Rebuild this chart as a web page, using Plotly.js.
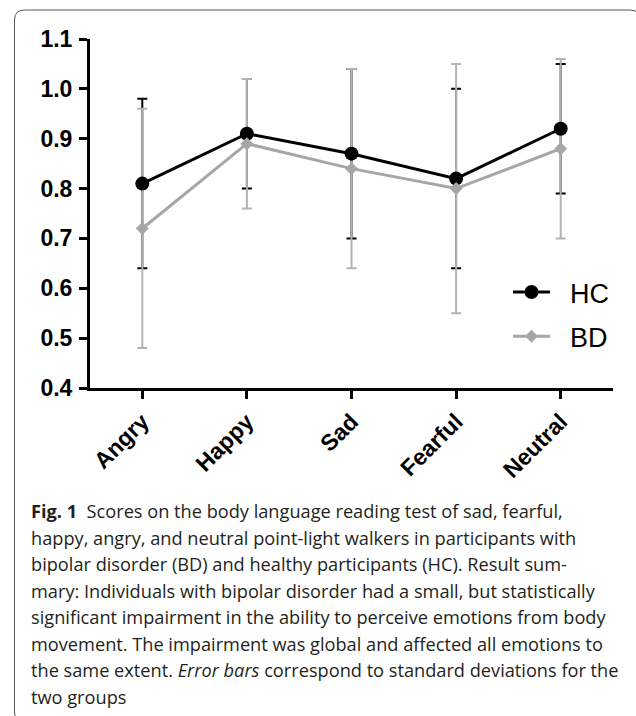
<!DOCTYPE html>
<html>
<head>
<meta charset="utf-8">
<script src="https://cdn.plot.ly/plotly-3.0.1.min.js"></script>
<style>
html,body{margin:0;padding:0;background:#fff;}
#chart{width:636px;height:716px;}
</style>
</head>
<body>
<div id="chart"></div>
<script>
// ---- data ----
const categories = ["Angry", "Happy", "Sad", "Fearful", "Neutral"];
const hcMean = [0.81, 0.91, 0.87, 0.82, 0.92];
const hcSD   = [0.17, 0.11, 0.17, 0.18, 0.13];
const bdMean = [0.72, 0.89, 0.84, 0.80, 0.88];
const bdSD   = [0.24, 0.13, 0.20, 0.25, 0.18];
const yTicks = [0.4, 0.5, 0.6, 0.7, 0.8, 0.9, 1.0, 1.1];
const yTickLabels = ["0.4", "0.5", "0.6", "0.7", "0.8", "0.9", "1.0", "1.1"];
const seriesNames = ["HC", "BD"];
const captionLines = [
  "<b>Fig. 1</b>  Scores on the body language reading test of sad, fearful,",
  "happy, angry, and neutral point-light walkers in participants with",
  "bipolar disorder (BD) and healthy participants (HC). Result sum-",
  "mary: Individuals with bipolar disorder had a small, but statistically",
  "significant impairment in the ability to perceive emotions from body",
  "movement. The impairment was global and affected all emotions to",
  "the same extent. <i>Error bars</i> correspond to standard deviations for the",
  "two groups"
];

// ---- geometry helpers (layout only) ----
const W = 636, H = 716;
const M = {l: 90, r: 23, t: 39, b: 328};
const plotW = W - M.l - M.r, plotH = H - M.t - M.b;
const PX = x => (x - M.l) / plotW;
const PY = y => (H - M.b - y) / plotH;

const BLACK = "#000000", GREY = "#a6a6a6", GREY_ERR = "#b3b3b3";
const PAD = "\u00a0\u00a0";

const traces = [
  { // HC error bars
    x: categories, y: hcMean, type: "scatter", mode: "markers",
    marker: {opacity: 0, size: 1}, showlegend: false, hoverinfo: "skip",
    error_y: {type: "data", array: hcSD, visible: true, color: BLACK, thickness: 2, width: 5}
  },
  { // BD error bars
    x: categories, y: bdMean, type: "scatter", mode: "markers",
    marker: {opacity: 0, size: 1}, showlegend: false, hoverinfo: "skip",
    error_y: {type: "data", array: bdSD, visible: true, color: GREY_ERR, thickness: 2, width: 5}
  },
  {
    name: PAD + seriesNames[0], x: categories, y: hcMean, type: "scatter", mode: "lines+markers",
    line: {color: BLACK, width: 3},
    marker: {symbol: "circle", size: 14, color: BLACK},
    legendgroup: "hc"
  },
  {
    name: PAD + seriesNames[1], x: categories, y: bdMean, type: "scatter", mode: "lines+markers",
    line: {color: GREY, width: 3},
    marker: {symbol: "diamond", size: 10, color: GREY},
    legendgroup: "bd"
  }
];

// frame path (rounded rectangle) in paper coords
const fx0 = 14.5, fx1 = 640, fy0 = 10, fy1 = 722, rad = 10;
const rx = rad / plotW, ry = rad / plotH;
const framePath =
  `M ${PX(fx0)} ${PY(fy0) - ry} ` +
  `Q ${PX(fx0)} ${PY(fy0)} ${PX(fx0) + rx} ${PY(fy0)} ` +
  `L ${PX(fx1) - rx} ${PY(fy0)} ` +
  `Q ${PX(fx1)} ${PY(fy0)} ${PX(fx1)} ${PY(fy0) - ry} ` +
  `L ${PX(fx1)} ${PY(fy1) + ry} ` +
  `Q ${PX(fx1)} ${PY(fy1)} ${PX(fx1) - rx} ${PY(fy1)} ` +
  `L ${PX(fx0) + rx} ${PY(fy1)} ` +
  `Q ${PX(fx0)} ${PY(fy1)} ${PX(fx0)} ${PY(fy1) + ry} Z`;

const captionFont = {family: "Open Sans, Noto Sans, sans-serif", size: 18.2, color: "#231f20"};
const annotations = captionLines.map((t, i) => ({
  xref: "paper", yref: "paper",
  x: PX(29), y: PY(511 + 26.5 * i),
  xanchor: "left", yanchor: "middle",
  text: t, showarrow: false, align: "left",
  font: captionFont
}));

const tickFont = {family: "Liberation Sans, Arial, sans-serif", size: 23, color: BLACK, weight: "bold"};

const layout = {
  width: W, height: H,
  margin: M,
  paper_bgcolor: "#ffffff", plot_bgcolor: "#ffffff",
  showlegend: true,
  legend: {
    x: PX(508), y: PY(268), xanchor: "left", yanchor: "top",
    font: {family: "Liberation Sans, Arial, sans-serif", size: 27, color: "#000"},
    bgcolor: "rgba(0,0,0,0)", itemwidth: 37, tracegroupgap: 6
  },
  xaxis: {
    type: "category", range: [-0.5, 4.5],
    showline: true, linecolor: BLACK, linewidth: 3,
    ticks: "outside", ticklen: 8, tickwidth: 3, tickcolor: BLACK,
    tickangle: -45, showgrid: false, zeroline: false,
    tickfont: tickFont
  },
  yaxis: {
    range: [0.4, 1.1],
    tickmode: "array", tickvals: yTicks, ticktext: yTickLabels,
    showline: true, linecolor: BLACK, linewidth: 3,
    ticks: "outside", ticklen: 8, tickwidth: 3, tickcolor: BLACK,
    ticklabelstandoff: 2,
    showgrid: false, zeroline: false,
    tickfont: tickFont
  },
  shapes: [{
    type: "path", xref: "paper", yref: "paper", path: framePath,
    line: {color: "#555555", width: 1}, fillcolor: "rgba(0,0,0,0)", layer: "below"
  }],
  annotations: annotations
};

Plotly.newPlot("chart", traces, layout, {displayModeBar: false, staticPlot: true});
</script>
</body>
</html>
